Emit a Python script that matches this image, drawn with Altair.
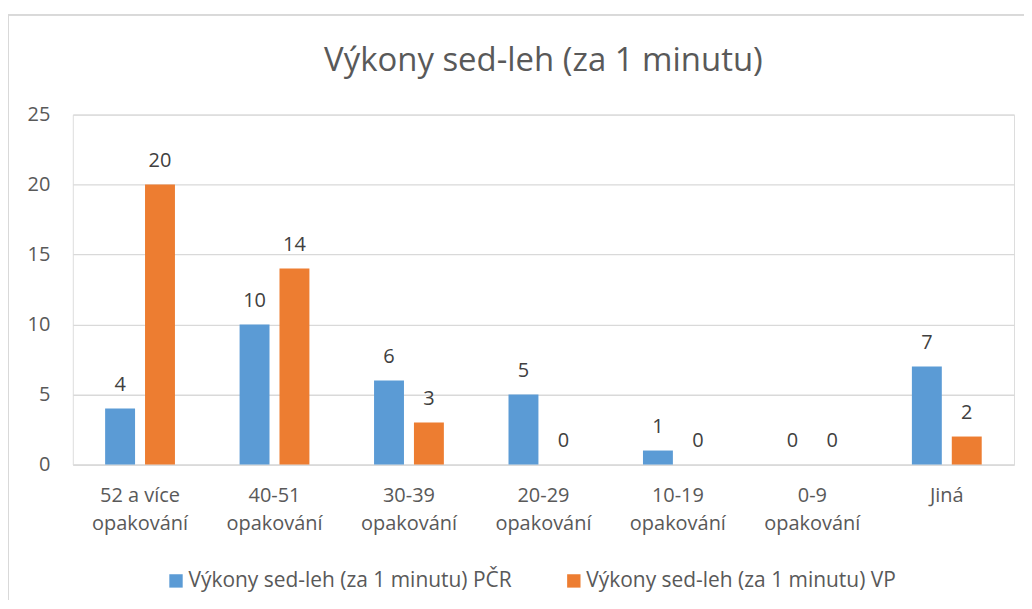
import altair as alt
import pandas as pd

categories = ["52 a více\nopakování", "40-51\nopakování", "30-39\nopakování",
              "20-29\nopakování", "10-19\nopakování", "0-9\nopakování", "Jiná"]
series_names = ["Výkony sed-leh (za 1 minutu) PČR", "Výkony sed-leh (za 1 minutu) VP"]
pcr_values = [4, 10, 6, 5, 1, 0, 7]
vp_values = [20, 14, 3, 0, 0, 0, 2]
colors = ["#5B9BD5", "#ED7D31"]

rows = []
for i, c in enumerate(categories):
    rows.append({"cat": c, "series": series_names[0], "value": pcr_values[i]})
    rows.append({"cat": c, "series": series_names[1], "value": vp_values[i]})
df = pd.DataFrame(rows)

FONT = "Open Sans"

x_enc = alt.X("cat:N", sort=categories, title=None,
              scale=alt.Scale(paddingInner=0, paddingOuter=0),
              axis=alt.Axis(labelExpr="split(datum.label, '\\n')", labelAngle=0,
                            labelFontSize=20, labelColor="#595959", labelFont=FONT,
                            labelPadding=21, labelLineHeight=28,
                            ticks=False, domain=True, domainColor="#d9d9d9",
                            domainWidth=1.3))
xoff = alt.XOffset("series:N", sort=series_names,
                   scale=alt.Scale(paddingInner=0.25, paddingOuter=0.81))
y_enc = alt.Y("value:Q", title=None,
              scale=alt.Scale(domain=[0, 25], nice=False),
              axis=alt.Axis(values=[0, 5, 10, 15, 20, 25], labelFontSize=20,
                            labelColor="#595959", labelFont=FONT, labelPadding=23,
                            ticks=False, domain=False, gridColor="#d9d9d9",
                            gridWidth=1.3))
color_enc = alt.Color("series:N", sort=series_names,
                      scale=alt.Scale(domain=series_names, range=colors),
                      legend=alt.Legend(title=None, orient="none", direction="horizontal",
                                        legendX=93, legendY=457,
                                        symbolType="square", symbolSize=180,
                                        symbolStrokeWidth=0, labelLimit=0,
                                        labelFontSize=21, labelColor="#595959",
                                        labelFont=FONT, columnPadding=51,
                                        labelOffset=2))

bars = alt.Chart(df).mark_bar().encode(
    x=x_enc, xOffset=xoff, y=y_enc, color=color_enc)

labels = alt.Chart(df).mark_text(baseline="alphabetic", dy=-18, fontSize=20,
                                 color="#404040", font=FONT).encode(
    x=alt.X("cat:N", sort=categories), xOffset=xoff, y="value:Q",
    text="value:Q")

border = alt.Chart(df).mark_rect(fill=None, stroke="#d9d9d9", strokeWidth=1.3).encode(
    x=alt.value(-65), x2=alt.value(1100), y=alt.value(-100), y2=alt.value(600))

chart = alt.layer(border, bars, labels).properties(
    width=944, height=351,
    title=alt.TitleParams("Výkony sed-leh (za 1 minutu)", fontSize=33,
                          font=FONT, fontWeight="normal", color="#595959",
                          anchor="middle", frame="group", baseline="alphabetic",
                          offset=10, dy=100),
    autosize=alt.AutoSizeParams(type="none"),
    padding={"left": 65, "top": 106, "right": 10, "bottom": 135},
).configure_view(stroke=None).configure(background="white")

chart.save("out.html", embed_options={"renderer": "svg", "actions": False})
